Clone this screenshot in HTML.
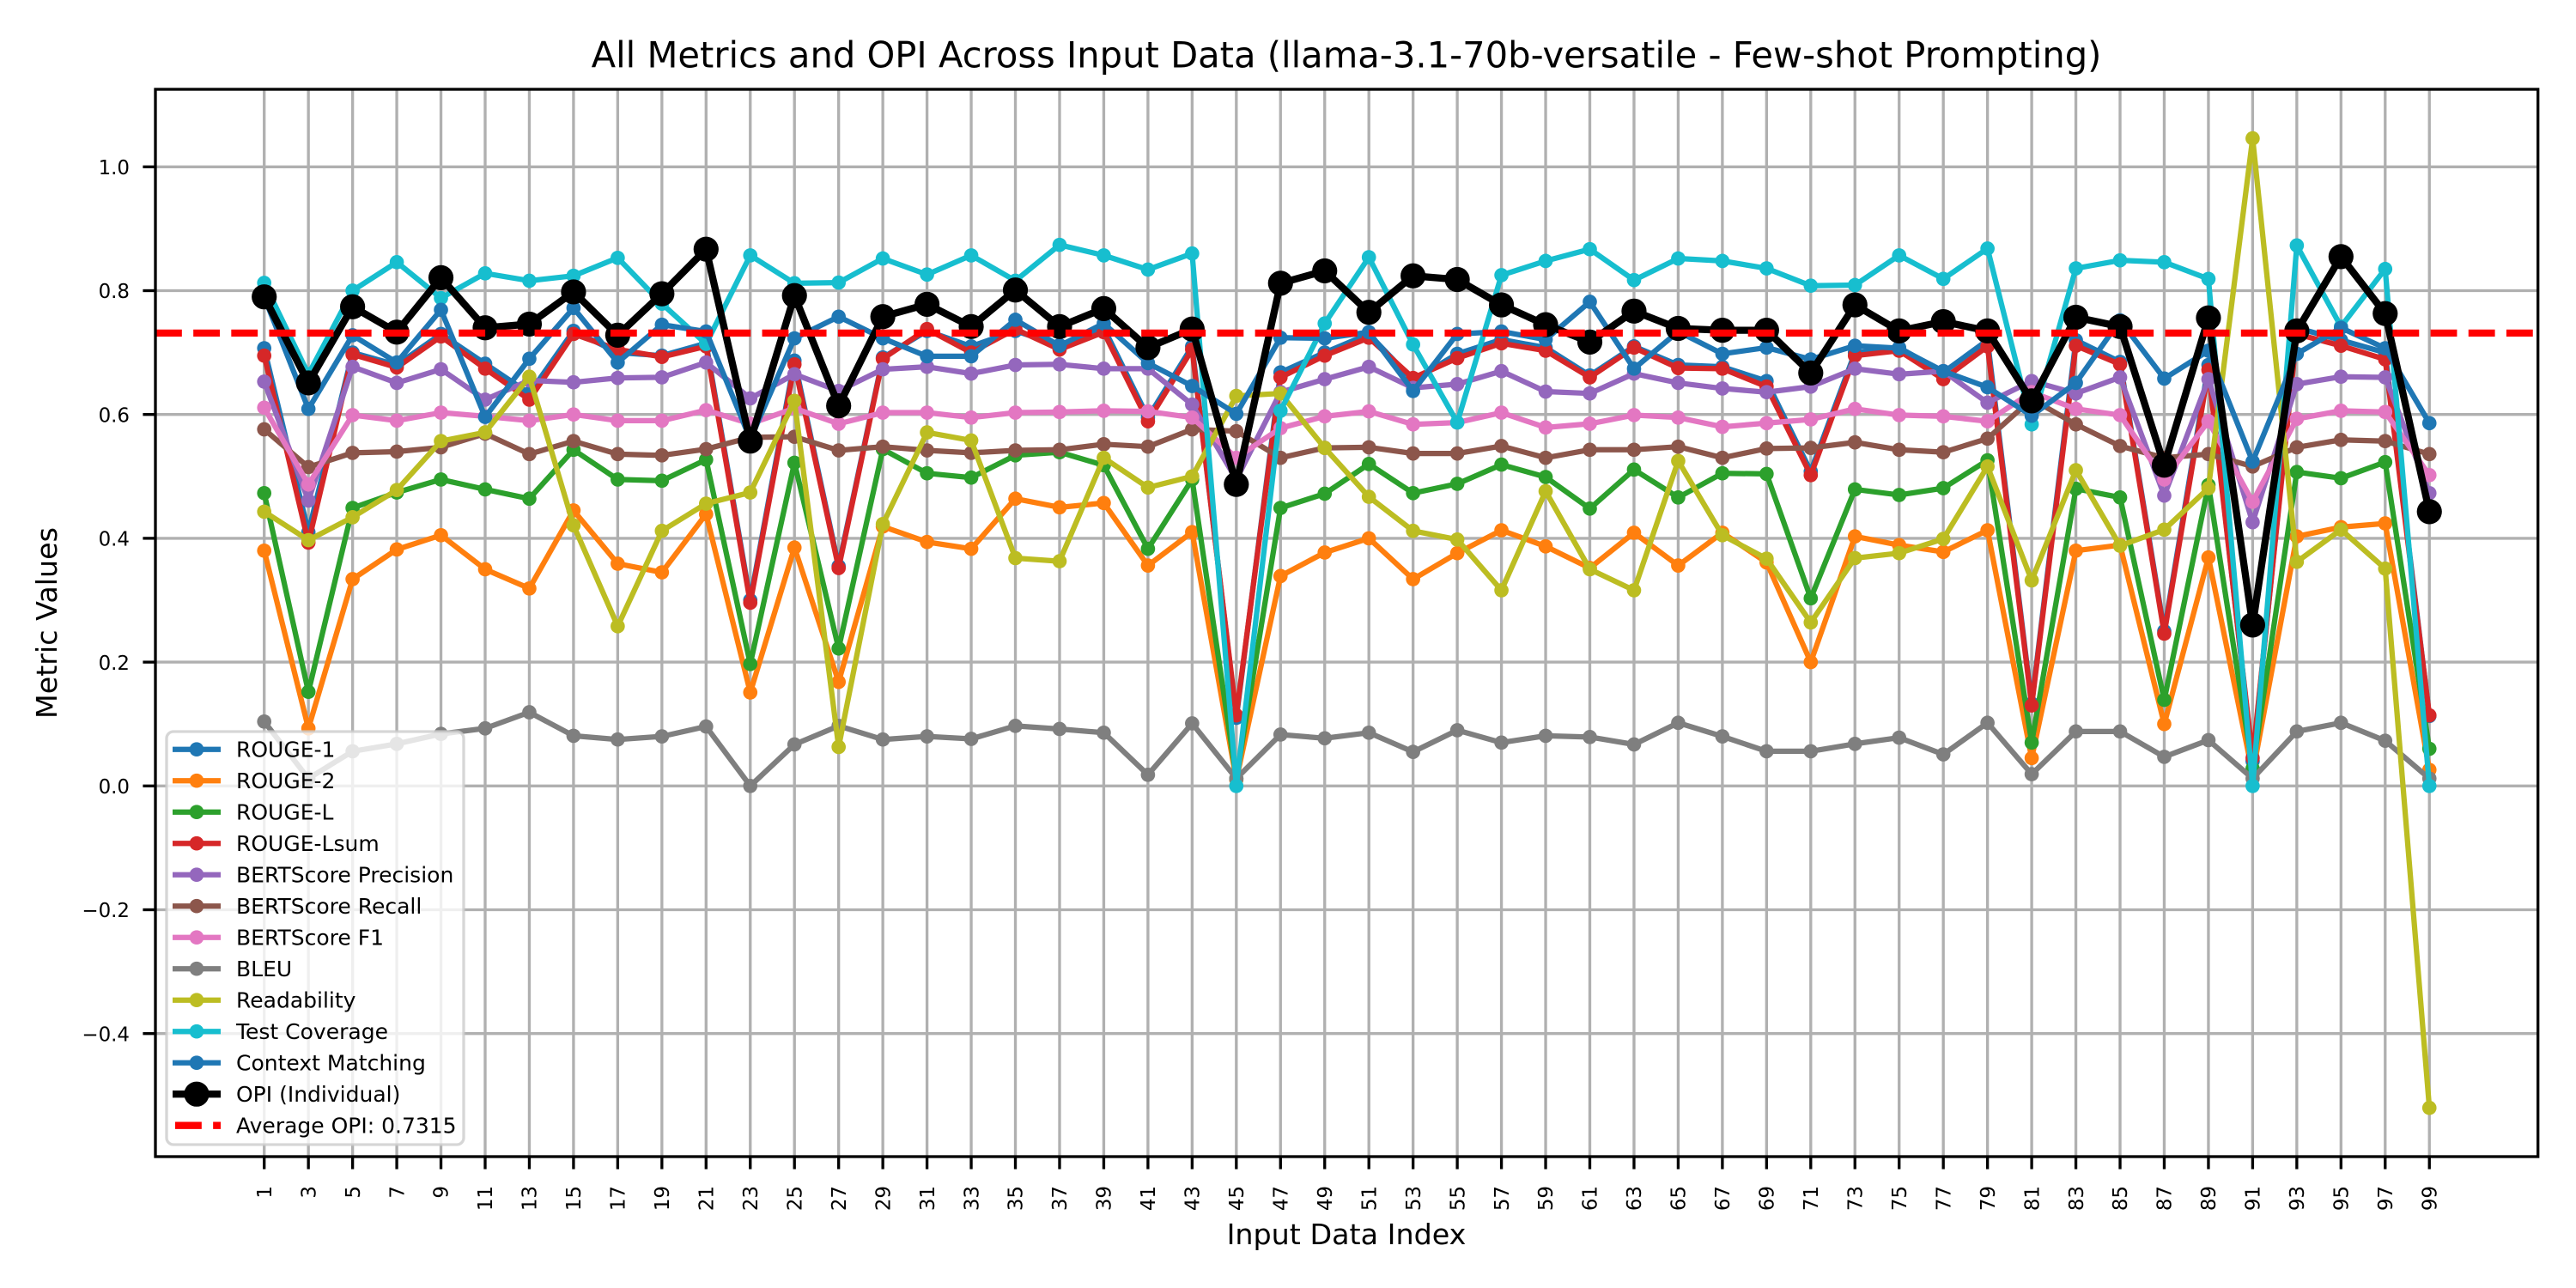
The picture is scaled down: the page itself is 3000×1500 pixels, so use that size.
<!DOCTYPE html>
<html lang="en">
<head>
<meta charset="utf-8">
<title>All Metrics and OPI Across Input Data</title>
<style>
html,body{margin:0;padding:0;background:#fff;}
svg{display:block;}
text{font-family:"DejaVu Sans","Liberation Sans",sans-serif;fill:#000;}
</style>
</head>
<body>
<svg id="chart" xmlns="http://www.w3.org/2000/svg" width="3000" height="1500" viewBox="0 0 3000 1500">
  <rect x="0" y="0" width="3000" height="1500" fill="#ffffff"/>
  <g id="grid"></g>
  <g id="series"></g>
  <g id="axes"></g>
  <g id="legend"></g>
  <text x="1568" y="78.5" text-anchor="middle" font-size="41.67">All Metrics and OPI Across Input Data (llama-3.1-70b-versatile - Few-shot Prompting)</text>
  <text x="1568" y="1449" text-anchor="middle" font-size="33.33">Input Data Index</text>
  <text x="0" y="0" transform="translate(66,725.5) rotate(-90)" text-anchor="middle" font-size="33.33">Metric Values</text>
</svg>
<script>
const inputIndex = [1,3,5,7,9,11,13,15,17,19,21,23,25,27,29,31,33,35,37,39,41,43,45,47,49,51,53,55,57,59,61,63,65,67,69,71,73,75,77,79,81,83,85,87,89,91,93,95,97,99];
const yTicks = [1.0,0.8,0.6,0.4,0.2,0.0,-0.2,-0.4];
const yTickLabels = ["1.0","0.8","0.6","0.4","0.2","0.0","\u22120.2","\u22120.4"];
const averageOpi = 0.7315;
const seriesNames = ["ROUGE-1","ROUGE-2","ROUGE-L","ROUGE-Lsum","BERTScore Precision","BERTScore Recall","BERTScore F1","BLEU","Readability","Test Coverage","Context Matching","OPI (Individual)"];
const seriesColors = ["#1f77b4","#ff7f0e","#2ca02c","#d62728","#9467bd","#8c564b","#e377c2","#7f7f7f","#bcbd22","#17becf","#1f77b4","#000000"];

const rouge1 = [.707,.41,.70,.68,.73,.682,.634,.735,.70,.695,.715,.30,.687,.355,.692,.735,.71,.735,.712,.74,.595,.71,.11,.668,.70,.73,.655,.698,.721,.708,.663,.71,.68,.677,.654,.508,.70,.708,.668,.72,.133,.72,.685,.25,.68,.04,.74,.72,.70,.113];
const rouge2 = [.38,.093,.334,.382,.405,.35,.319,.445,.359,.345,.439,.151,.385,.168,.419,.394,.383,.464,.45,.457,.356,.41,.01,.339,.377,.40,.334,.376,.413,.387,.352,.409,.356,.409,.361,.20,.403,.389,.378,.413,.045,.38,.389,.10,.369,.02,.403,.418,.424,.026];
const rougeL = [.473,.152,.449,.474,.495,.479,.464,.543,.495,.493,.527,.197,.522,.222,.544,.505,.498,.534,.539,.518,.383,.495,.012,.449,.472,.52,.473,.488,.519,.499,.448,.511,.466,.505,.504,.303,.479,.47,.481,.526,.07,.48,.466,.139,.486,.028,.507,.497,.523,.06];
const rougeLsum = [.695,.393,.697,.676,.726,.674,.624,.73,.705,.693,.71,.296,.681,.352,.69,.738,.70,.738,.705,.733,.589,.705,.114,.66,.695,.724,.659,.691,.715,.703,.66,.708,.675,.674,.645,.502,.695,.703,.657,.71,.13,.711,.681,.246,.672,.045,.73,.711,.689,.114];
const bertPrecision = [.653,.461,.677,.651,.673,.624,.655,.652,.659,.66,.684,.626,.665,.638,.673,.677,.666,.68,.681,.674,.674,.616,.495,.636,.657,.677,.643,.649,.67,.637,.634,.666,.651,.642,.636,.645,.674,.665,.67,.619,.654,.634,.66,.469,.657,.426,.649,.661,.66,.473];
const bertRecall = [.576,.515,.538,.54,.547,.569,.536,.557,.536,.534,.544,.563,.564,.542,.548,.542,.538,.542,.543,.552,.548,.576,.573,.53,.546,.547,.537,.537,.549,.53,.543,.543,.548,.53,.545,.546,.555,.543,.539,.561,.625,.584,.549,.53,.536,.516,.547,.559,.557,.536];
const bertF1 = [.611,.487,.599,.59,.603,.597,.59,.60,.59,.59,.607,.585,.61,.585,.603,.603,.595,.603,.604,.606,.605,.595,.53,.578,.597,.605,.584,.587,.603,.579,.585,.599,.595,.58,.586,.592,.609,.599,.597,.589,.636,.609,.599,.495,.589,.459,.593,.606,.604,.502];
const bleu = [.104,.012,.056,.068,.084,.093,.119,.081,.075,.08,.096,.0,.067,.097,.075,.08,.076,.097,.092,.086,.018,.101,.012,.083,.077,.086,.055,.09,.07,.081,.079,.067,.102,.08,.056,.056,.068,.078,.051,.102,.019,.088,.088,.047,.074,.012,.088,.102,.073,.012];
const readability = [.443,.397,.434,.478,.557,.571,.661,.421,.258,.412,.456,.474,.622,.063,.423,.571,.558,.368,.363,.53,.482,.50,.63,.634,.546,.467,.412,.398,.316,.476,.35,.316,.525,.405,.367,.264,.368,.376,.399,.516,.332,.51,.388,.414,.481,1.046,.362,.414,.351,-.52];
const testCoverage = [.8125,.665,.80,.846,.788,.828,.816,.824,.853,.779,.714,.857,.812,.813,.852,.826,.857,.816,.874,.857,.834,.86,.0,.606,.747,.854,.713,.587,.825,.848,.867,.817,.852,.848,.836,.808,.809,.857,.819,.868,.584,.836,.849,.846,.819,.0,.873,.742,.835,.0];
const contextMatching = [.79,.609,.728,.684,.769,.596,.69,.772,.684,.745,.734,.56,.723,.758,.723,.694,.694,.753,.711,.747,.683,.646,.601,.724,.723,.733,.638,.73,.734,.721,.782,.674,.734,.698,.708,.689,.711,.707,.67,.644,.598,.651,.752,.658,.703,.524,.698,.74,.707,.586];
const opiIndividual = [.79,.651,.774,.733,.821,.74,.746,.798,.728,.795,.867,.557,.792,.614,.758,.778,.742,.801,.742,.771,.708,.738,.487,.812,.832,.765,.824,.818,.777,.745,.717,.767,.739,.736,.736,.667,.777,.735,.75,.735,.622,.757,.742,.518,.756,.26,.735,.855,.763,.443];

const allSeries = [rouge1,rouge2,rougeL,rougeLsum,bertPrecision,bertRecall,bertF1,bleu,readability,testCoverage,contextMatching,opiIndividual];

const SVGNS = "http://www.w3.org/2000/svg";
const frame = {left:181, right:2955.7, top:104, bottom:1347};
const xAt = i => 307.7 + i * 51.46;
const yAt = v => 915.3 - v * 721;
const slug = s => s.toLowerCase().replace(/[^a-z0-9]+/g,'-').replace(/-+$/,'');

function make(parent, tag, attrs, text){
  const el = document.createElementNS(SVGNS, tag);
  for (const k in attrs) el.setAttribute(k, attrs[k]);
  if (text !== undefined) el.textContent = text;
  parent.appendChild(el);
  return el;
}

const gridG = document.getElementById('grid');
const seriesG = document.getElementById('series');
const axesG = document.getElementById('axes');
const legendG = document.getElementById('legend');

inputIndex.forEach((n, i) => {
  const x = xAt(i);
  const g = make(gridG, 'line', {x1:x, x2:x, y1:frame.top, y2:frame.bottom, stroke:'#b0b0b0', 'stroke-width':3.33});
  
  
});
yTicks.forEach((v, i) => {
  const y = yAt(v);
  const g = make(gridG, 'line', {x1:frame.left, x2:frame.right, y1:y, y2:y, stroke:'#b0b0b0', 'stroke-width':3.33});
  
  
});

allSeries.forEach((vals, s) => {
  const isOpi = s === allSeries.length - 1;
  const g = make(seriesG, 'g', {});
  
  
  const pts = vals.map((v, i) => xAt(i).toFixed(2) + ',' + yAt(v).toFixed(2)).join(' ');
  const line = make(g, 'polyline', {points:pts, fill:'none', stroke:seriesColors[s], 'stroke-width':isOpi ? 8.33 : 6.25, 'stroke-linejoin':'round', 'stroke-linecap':'square'});
  
  
  vals.forEach((v, i) => {
    const c = make(g, 'circle', {cx:xAt(i).toFixed(2), cy:yAt(v).toFixed(2), r:isOpi ? 14.6 : 8.33, fill:seriesColors[s]});
    
    
  });
});

const avgLine = make(seriesG, 'line', {x1:frame.left, x2:frame.right, y1:yAt(averageOpi), y2:yAt(averageOpi), stroke:'#ff0000', 'stroke-width':8.33, 'stroke-dasharray':'30.83 13.33'});



const spine = make(axesG, 'rect', {x:frame.left, y:frame.top, width:frame.right-frame.left, height:frame.bottom-frame.top, fill:'none', stroke:'#000', 'stroke-width':3.33});



inputIndex.forEach((n, i) => {
  const x = xAt(i);
  const t = make(axesG, 'line', {x1:x, x2:x, y1:frame.bottom, y2:frame.bottom+14.6, stroke:'#000', 'stroke-width':3.33});
  
  
  const l = make(axesG, 'text', {x:0, y:0, transform:'translate(' + (x+8.2) + ',1381) rotate(-90)', 'text-anchor':'end', 'font-size':22.9}, String(n));
  
  
});
yTicks.forEach((v, i) => {
  const y = yAt(v);
  const t = make(axesG, 'line', {x1:frame.left-14.6, x2:frame.left, y1:y, y2:y, stroke:'#000', 'stroke-width':3.33});
  
  
  const l = make(axesG, 'text', {x:151, y:y+8.7, 'text-anchor':'end', 'font-size':22.9}, yTickLabels[i]);
  
  
});

const box = make(legendG, 'rect', {x:194, y:852, width:346, height:481, rx:8, ry:8, fill:'#ffffff', 'fill-opacity':0.8, stroke:'#cccccc', 'stroke-opacity':0.8, 'stroke-width':3.33});


const legendLabels = seriesNames.concat(['Average OPI: ' + averageOpi.toFixed(4)]);
legendLabels.forEach((label, i) => {
  const y = 872.7 + i * 36.5;
  const entry = make(legendG, 'g', {});
  
  
  if (i < seriesNames.length) {
    const isOpi = i === seriesNames.length - 1;
    const h = make(entry, 'line', {x1:201, x2:257, y1:y, y2:y, stroke:seriesColors[i], 'stroke-width':isOpi ? 8.33 : 6.25});
    
    
    const m = make(entry, 'circle', {cx:229, cy:y, r:isOpi ? 14.6 : 8.33, fill:seriesColors[i]});
    
    
  } else {
    const h = make(entry, 'line', {x1:204, x2:257, y1:y, y2:y, stroke:'#ff0000', 'stroke-width':8.33, 'stroke-dasharray':'30.83 13.33'});
    
    
  }
  const t = make(entry, 'text', {x:275, y:y+8.7, 'font-size':25}, label);
  
  
});
</script>
</body>
</html>
